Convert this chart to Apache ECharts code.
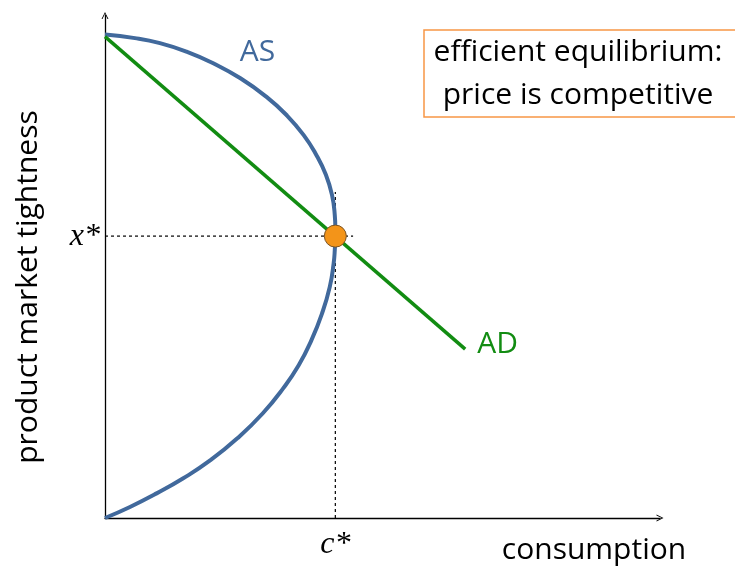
<!DOCTYPE html>
<html>
<head>
<meta charset="utf-8">
<script src="https://cdn.jsdelivr.net/npm/echarts@6/dist/echarts.min.js"></script>
<style>
html, body { margin: 0; padding: 0; background: #fff; }
#main { width: 735px; height: 566px; }
</style>
</head>
<body>
<div id="main"></div>
<script>
// AS curve: consumption (x) vs product market tightness (y), traced bottom -> top
var asX = [0, 0.45, 0.93, 1.41, 1.90, 2.39, 2.84, 3.21, 3.49, 3.72, 3.91, 4.05, 4.12, 4.14, 4.15,
  4.15, 4.14, 4.09, 3.98, 3.81, 3.58, 3.27, 2.91, 2.44, 1.95, 1.47, 0.99, 0.54, 0]
var asY = [0, 0.22, 0.49, 0.79, 1.15, 1.59, 2.08, 2.58, 3.04, 3.54, 4.07, 4.60, 5.07, 5.33, 5.61,
  5.77, 6.03, 6.43, 6.83, 7.22, 7.62, 8.02, 8.38, 8.75, 9.05, 9.28, 9.45, 9.55, 9.62]
// AD line
var adX = [0, 6.49]
var adY = [9.58, 3.36]
// equilibrium
var eqX = 4.15
var eqY = 5.61
// dotted guides
var guideHX = [0, 4.47]
var guideVY = [0, 6.49]

var font = '"Open Sans", sans-serif'
var arrow = 'path://M0,10 L5,0 L10,10 L8.6,10 L5,2.6 L1.4,10 Z'

var chart = echarts.init(document.getElementById('main'))
var option = {
  animation: false,
  grid: { left: 105, right: 75, top: 15.5, bottom: 48 },
  xAxis: {
    type: 'value', min: 0, max: 10,
    splitLine: { show: false },
    axisTick: { show: false },
    axisLine: { lineStyle: { color: '#000', width: 1.3 }, symbol: ['none', arrow], symbolSize: [11, 7] },
    axisLabel: {
      customValues: [eqX], margin: 11,
      formatter: function () { return 'c*' },
      fontFamily: '"Liberation Serif", serif', fontStyle: 'italic', fontSize: 32, color: '#000'
    }
  },
  yAxis: {
    type: 'value', min: 0, max: 10,
    splitLine: { show: false },
    axisTick: { show: false },
    axisLine: { lineStyle: { color: '#000', width: 1.3 }, symbol: ['none', arrow], symbolSize: [11, 7] },
    axisLabel: {
      customValues: [eqY], margin: 5,
      formatter: function () { return 'x*' },
      fontFamily: '"Liberation Serif", serif', fontStyle: 'italic', fontSize: 32, color: '#000'
    }
  },
  series: [
    {
      name: 'guideH', type: 'line', symbol: 'none', silent: true,
      data: guideHX.map(function (x) { return [x, eqY] }),
      lineStyle: { color: '#000', width: 1.2, type: [3, 3] }
    },
    {
      name: 'guideV', type: 'line', symbol: 'none', silent: true,
      data: guideVY.map(function (y) { return [eqX, y] }),
      lineStyle: { color: '#000', width: 1.2, type: [3, 3] }
    },
    {
      name: 'AS', type: 'line', symbol: 'none', smooth: 0.5,
      data: asX.map(function (x, i) { return [x, asY[i]] }),
      lineStyle: { color: '#41699c', width: 4 },
      markPoint: {
        symbol: 'circle', symbolSize: 0, silent: true,
        data: [{ coord: [asX[23], asY[23]] }],
        label: { show: true, position: 'inside', formatter: 'AS', offset: [17, -26], color: '#41699c', fontSize: 30, fontFamily: font }
      }
    },
    {
      name: 'AD', type: 'line', symbol: 'none',
      data: adX.map(function (x, i) { return [x, adY[i]] }),
      lineStyle: { color: '#128c12', width: 3.5 },
      endLabel: { show: true, formatter: 'AD', color: '#128c12', fontSize: 30, fontFamily: font, distance: 12, offset: [0, -5] }
    },
    {
      name: 'eq', type: 'scatter', symbolSize: 22, z: 10,
      data: [[eqX, eqY]],
      itemStyle: { color: '#f39419', opacity: 1, borderColor: '#7a5528', borderWidth: 1 }
    }
  ],
  graphic: [
    { type: 'rect', shape: { x: 424, y: 30, width: 320, height: 87 }, style: { fill: '#fff', stroke: '#f79646', lineWidth: 1.5 } },
    {
      type: 'text', x: 578, y: 74,
      style: { text: 'efficient equilibrium:\nprice is competitive', align: 'center', verticalAlign: 'middle', font: '30px ' + font, lineHeight: 43, fill: '#000' }
    },
    {
      type: 'text', x: 28, y: 287, rotation: Math.PI / 2,
      style: { text: 'product market tightness', align: 'center', verticalAlign: 'middle', font: '30px ' + font, fill: '#000' }
    },
    {
      type: 'text', x: 594, y: 550,
      style: { text: 'consumption', align: 'center', verticalAlign: 'middle', font: '30px ' + font, fill: '#000' }
    }
  ]
}
chart.setOption(option)
</script>
</body>
</html>
